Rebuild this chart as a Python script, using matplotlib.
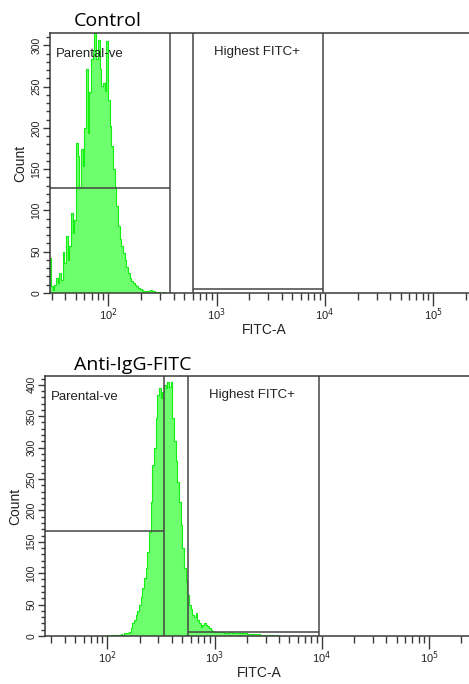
import numpy as np
import matplotlib.pyplot as plt

# channel grid: log-spaced FITC channels (dex per channel)
CHANNEL_DEX = 0.0155

# Control: counts per channel, first channel centre at FITC ~29
control_first = 28.95
control_counts = [
    42, 8, 4, 10, 18, 12, 24, 16, 50, 36, 69, 40, 57, 97, 73, 89,
    182, 166, 129, 174, 154, 200, 271, 194, 243, 283, 295, 315, 283, 307,
    271, 251, 255, 245, 305, 234, 202, 178, 150, 129, 105, 81, 65, 57,
    49, 40, 32, 24, 18, 14, 12, 10, 8, 6, 5, 4, 3, 3, 2, 3,
    4, 2, 2, 1, 1, 1, 0, 0, 1, 0, 0,
]

# Anti-IgG-FITC: counts per channel, first channel centre at FITC ~99
stained_first = 98.6
stained_counts = [
    1, 1, 0, 1, 1, 2, 1, 2, 2, 3, 2, 4, 4, 5,
    7, 12, 20, 26, 33, 40, 49, 62, 76, 92, 108, 134, 166, 214, 272, 299,
    347, 384, 395, 379, 389, 400, 395, 405, 397, 405, 347, 310, 278, 246,
    214, 177, 140, 108, 87, 66, 50, 43, 33, 31, 36, 25, 20, 15, 18, 20,
    18, 16, 12, 10, 8, 7, 7, 7, 6, 6, 6, 5, 5, 5, 6, 6,
    5, 5, 5, 5, 4, 4, 4, 4, 4, 3, 3, 3, 3, 3, 3, 3,
    3, 2, 2, 2, 2, 2, 2, 1, 1, 1, 0, 1, 0,
]

# gates: (low, high, level)
control_gates = {"Parental-ve": (28.95, 371, 127), "Highest FITC+": (601, 9660, 5)}
stained_gates = {"Parental-ve": (26.2, 340, 167), "Highest FITC+": (562, 9500, 6)}

panels = [
    ("Control", control_first, control_counts, control_gates, 315,
     [50, 293, 478.6], 26, [0, 50, 100, 150, 200, 250, 300]),
    ("Anti-IgG-FITC", stained_first, stained_counts, stained_gates, 414,
     [45, 636, 473.8], 369.5, [0, 50, 100, 150, 200, 250, 300, 350, 400]),
]

W, H = 469, 684
fig = plt.figure(figsize=(W / 100, H / 100), dpi=100)
plt.rcParams['font.family'] = ['Liberation Sans', 'DejaVu Sans']

gate_col = "#454545"
axis_col = "#3a3a3a"

for title, first, counts, gates, ymax, (left, bottom, right), title_base, yt in panels:
    ax = fig.add_axes([left / W, (H - bottom) / H, (right - left) / W, 260 / H])
    counts = np.array(counts)
    centres = first * 10 ** (CHANNEL_DEX * np.arange(len(counts)))

    ax.fill_between(centres, counts, step="mid", color="#6dff6d", lw=0)
    ax.step(centres, counts, where="mid", color="#14f014", lw=0.8)

    ax.set_xscale("log")

    # gates
    lo, hi, lvl = gates["Parental-ve"]
    ax.hlines(lvl, lo, hi, color=gate_col, lw=1.1)
    ax.axvline(hi, color=gate_col, lw=1.1)
    ax.annotate("Parental-ve", xy=(lo, ymax), xytext=(4.5, -17),
                textcoords="offset points", fontsize=9.5, color="#222222")
    lo2, hi2, lvl2 = gates["Highest FITC+"]
    ax.hlines(lvl2, lo2, hi2, color=gate_col, lw=1.1)
    ax.axvline(lo2, color=gate_col, lw=1.1)
    ax.axvline(hi2, color=gate_col, lw=1.1)
    ax.annotate("Highest FITC+", xy=(lo2, ymax), xytext=(15, -16),
                textcoords="offset points", fontsize=9.5, color="#222222")

    for s in ["left", "top", "bottom"]:
        ax.spines[s].set_color(axis_col)
        ax.spines[s].set_linewidth(1.1)
    ax.spines["right"].set_visible(False)

    ax.set_xticks([1e2, 1e3, 1e4, 1e5])
    ax.set_xticklabels(["10$^{2}$", "10$^{3}$", "10$^{4}$", "10$^{5}$"])
    minors = [m * 10 ** d for d in range(1, 6) for m in range(2, 10)]
    ax.set_xticks(minors, minor=True)
    ax.set_yticks(yt)
    ax.set_yticklabels([str(v) for v in yt], rotation=90, va="center")
    ax.set_yticks(np.arange(0, ymax, 10), minor=True)
    ax.set_xlim(lo, 262144)
    ax.set_ylim(0, ymax)
    ax.tick_params(axis="x", which="major", length=9, width=1, colors=axis_col,
                   labelsize=8, pad=1, labelcolor="#222222")
    ax.tick_params(axis="x", which="minor", length=5, width=1, colors=axis_col)
    ax.tick_params(axis="y", which="major", length=5, width=1, colors=axis_col,
                   labelsize=7.5, pad=1, labelcolor="#222222")
    ax.tick_params(axis="y", which="minor", length=3, width=1, colors=axis_col)

    ax.set_xlabel("FITC-A", fontsize=10, color="#222222", va="center")
    ax.xaxis.set_label_coords(0.5, -0.142)
    ax.set_ylabel("Count", fontsize=10, labelpad=3, color="#222222")

    fig.text(74 / W, 1 - title_base / H, title, fontsize=14, family="Open Sans",
             ha="left", va="baseline")

fig.savefig("out.png", dpi=100)
